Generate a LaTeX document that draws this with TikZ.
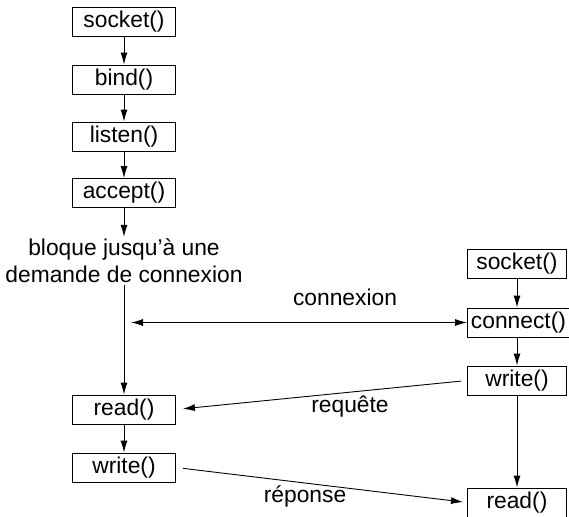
\documentclass[tikz,border=0pt]{standalone}
\usepackage{fontspec}
\setmainfont{Liberation Sans}
\usetikzlibrary{arrows.meta}
\begin{document}
\begin{tikzpicture}[x=1pt,y=-1pt,
  every node/.style={font=\fontsize{22.8}{27}\selectfont},
  fbox/.style={draw, line width=0.9pt, minimum height=29pt, inner sep=3.5pt},
  lbox/.style={fbox, minimum width=103pt},
  rbox/.style={fbox, minimum width=99pt, anchor=west},
  conn/.style={line width=0.9pt, -{Latex[length=12pt,width=7pt]}},
  lbl/.style={inner sep=0pt}]
\useasboundingbox (0,0) rectangle (569,516);
% left column
\node[lbox] (s1) at (124,22) {socket()};
\node[lbox] (b1) at (124,79.5) {bind()};
\node[lbox] (l1) at (124,136.5) {listen()};
\node[lbox] (a1) at (124,193) {accept()};
\node[align=center, inner sep=2pt] (blk) at (124,261) {bloque jusqu’à une\\demande de connexion};
\node[lbox] (r1) at (124,409.5) {read()};
\node[lbox] (w1) at (124,467.5) {write()};
% right column
\node[rbox] (s2) at (467,264) {socket()};
\node[rbox] (c2) at (467,322.5) {connect()};
\node[rbox] (w2) at (467,380.5) {write()};
\node[rbox] (r2) at (467,502.5) {read()};
% connectors
\draw[conn] (s1) -- (b1);
\draw[conn] (b1) -- (l1);
\draw[conn] (l1) -- (a1);
\draw[conn] (a1) -- (blk);
\draw[conn] (blk) -- (r1);
\draw[conn] (r1) -- (w1);
\draw[conn] (s2.south -| 517,0) -- (c2.north -| 517,0);
\draw[conn] (c2.south -| 517,0) -- (w2.north -| 517,0);
\draw[conn] (w2.south -| 517,0) -- (r2.north -| 517,0);
\coordinate (cl) at (131,322.5);
\draw[conn, {Latex[length=12pt,width=7pt]}-{Latex[length=12pt,width=7pt]}] (cl) -- (c2.west);
\draw[conn, shorten <=6pt, shorten >=7pt] (w2.west) -- (r1.east);
\draw[conn, shorten <=7pt, shorten >=4pt] (w1.east) -- (r2.west);
% labels
\node[lbl] (lc) at (345,297) {connexion};
\node[lbl] (lr) at (350,407) {requête};
\node[lbl] (lp) at (305,496) {réponse};
\end{tikzpicture}
\end{document}
